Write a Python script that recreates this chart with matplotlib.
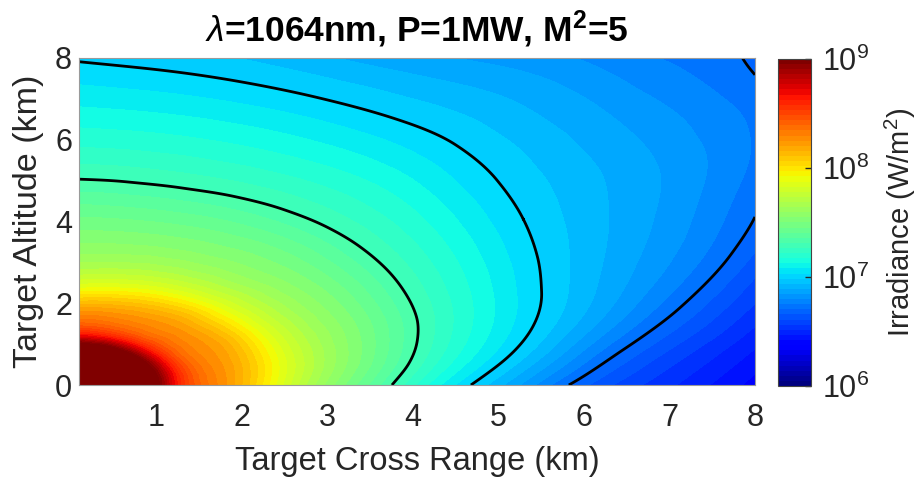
import numpy as np
import matplotlib
matplotlib.use('Agg')
import matplotlib.pyplot as plt
import matplotlib.tri as mtri
from matplotlib.colors import Normalize, LogNorm
from matplotlib.cm import ScalarMappable
from matplotlib.ticker import NullLocator

# ---------------- data ----------------
# Positions (polar, about the origin) where log10(irradiance [W/m^2]) takes
# a given value: angle in degrees from the cross-range axis, distance in km.
peak_log_irr = 9.7
ring_angles_deg = [0, 7.5, 15, 22.5, 30, 37.5, 45, 52.5, 60, 67.5, 75, 82.5, 90]

ring_945_r = [0.50, 0.50, 0.50, 0.50, 0.50, 0.50, 0.50, 0.50, 0.50, 0.50, 0.50, 0.50, 0.50]
ring_900_r = [1.04, 1.04, 1.04, 1.04, 1.04, 1.04, 1.04, 1.04, 1.04, 1.04, 1.03, 1.03, 1.03]
ring_862_r = [1.27, 1.27, 1.27, 1.27, 1.27, 1.27, 1.27, 1.27, 1.27, 1.27, 1.27, 1.27, 1.27]
ring_825_r = [1.82, 1.83, 1.84, 1.85, 1.86, 1.86, 1.86, 1.86, 1.85, 1.84, 1.83, 1.82, 1.80]
ring_787_r = [2.44, 2.50, 2.55, 2.58, 2.60, 2.60, 2.60, 2.60, 2.58, 2.55, 2.50, 2.45, 2.40]
ring_750_r = [3.20, 3.38, 3.52, 3.63, 3.70, 3.76, 3.80, 3.83, 3.84, 3.83, 3.81, 3.79, 3.77]
ring_730_r = [3.76, 3.99, 4.20, 4.38, 4.52, 4.66, 4.79, 4.90, 4.97, 5.00, 5.00, 5.02, 5.05]
ring_715_r = [4.17, 4.51, 4.83, 5.09, 5.32, 5.56, 5.81, 6.03, 6.13, 6.17, 6.21, 6.25, 6.30]
ring_700_r = [4.68, 5.15, 5.60, 5.96, 6.30, 6.67, 7.06, 7.40, 7.54, 7.60, 7.68, 7.78, 7.93]
ring_levels = [9.45, 9.0, 8.625, 8.25, 7.875, 7.5, 7.3, 7.15, 7.0]

ring_685_angles_deg = [0, 7.5, 15, 22.5, 30, 37.5, 45, 52.5]
ring_685_r = [5.25, 5.80, 6.45, 7.10, 7.85, 8.67, 9.08, 9.32]
ring_685_level = 6.85

ring_670_angles_deg = [0, 7.5, 15, 22.5]
ring_670_r = [5.82, 6.50, 7.38, 8.35]
ring_670_level = 6.7

# values along the plot edges (km, log10 W/m^2)
bottom_edge_x = [7.0]
bottom_edge_val = [6.51]
right_edge_y = [0.0, 1.0, 2.0, 3.0, 4.14, 5.0, 6.0, 7.0, 7.56, 8.0]
right_edge_val = [6.38, 6.46, 6.55, 6.63, 6.70, 6.73, 6.745, 6.725, 6.70, 6.685]
top_edge_x = [0.0, 1.0, 2.0, 3.0, 4.0, 5.0, 6.0, 7.0, 7.84]
top_edge_val = [6.994, 6.975, 6.948, 6.905, 6.865, 6.835, 6.795, 6.745, 6.70]

contour_line_levels_wm2 = [5e6, 1e7, 2e7]

x_ticks = [1, 2, 3, 4, 5, 6, 7, 8]
y_ticks = [0, 2, 4, 6, 8]
cbar_ticks = [1e6, 1e7, 1e8, 1e9]
cbar_ticklabels = [r'$10^{6}$', r'$10^{7}$', r'$10^{8}$', r'$10^{9}$']

title_text = r'$\lambda$=1064nm, P=1MW, M$^{\mathbf{2}}$=5'
x_label = 'Target Cross Range (km)'
y_label = 'Target Altitude (km)'
cbar_label = r'Irradiance (W/m$^{2}$)'

# ---------------- style ----------------
plt.rcParams['font.family'] = ['Liberation Sans', 'DejaVu Sans']
plt.rcParams['mathtext.fontset'] = 'custom'
plt.rcParams['mathtext.rm'] = 'Liberation Sans'
plt.rcParams['mathtext.it'] = 'Liberation Sans:italic'
plt.rcParams['mathtext.bf'] = 'Liberation Sans:bold'
text_color = '#262626'
edge_color = '#9a9a9a'

# ---------------- gather samples ----------------
px, py, pz = [0.0], [0.0], [peak_log_irr]


def add_ring(angles, radii, level):
    th = np.deg2rad(np.asarray(angles, dtype=float))
    rr = np.asarray(radii, dtype=float)
    px.extend(rr * np.cos(th))
    py.extend(rr * np.sin(th))
    pz.extend([level] * len(rr))


rings = [ring_945_r, ring_900_r, ring_862_r, ring_825_r, ring_787_r,
         ring_750_r, ring_730_r, ring_715_r, ring_700_r]
for radii, level in zip(rings, ring_levels):
    add_ring(ring_angles_deg, radii, level)
add_ring(ring_685_angles_deg, ring_685_r, ring_685_level)
add_ring(ring_670_angles_deg, ring_670_r, ring_670_level)

px.extend(bottom_edge_x); py.extend([0.0] * len(bottom_edge_x)); pz.extend(bottom_edge_val)
px.extend([8.0] * len(right_edge_y)); py.extend(right_edge_y); pz.extend(right_edge_val)
px.extend(top_edge_x); py.extend([8.0] * len(top_edge_x)); pz.extend(top_edge_val)

px = np.round(np.array(px), 9)
py = np.round(np.array(py), 9)
pz = np.array(pz, dtype=float)

tri = mtri.Triangulation(px, py)
interp = mtri.CubicTriInterpolator(tri, pz, kind='min_E')
refiner = mtri.UniformTriRefiner(tri)
tri_f, z_f = refiner.refine_field(pz, triinterpolator=interp, subdiv=4)

# ---------------- figure ----------------
fig = plt.figure(figsize=(9.19, 4.82), dpi=100)
ax = fig.add_axes([0.086, 0.2012, 0.7355, 0.6785])
cax = fig.add_axes([0.8466, 0.199, 0.0359, 0.679])

cmap = plt.get_cmap('jet')
norm = Normalize(vmin=6, vmax=9)
fill_levels = np.arange(5.9, 9.9, 0.05)
ax.tricontourf(tri_f, z_f, levels=fill_levels, cmap=cmap, norm=norm)
ax.tricontour(tri_f, z_f, levels=np.log10(contour_line_levels_wm2),
              colors='black', linewidths=2.0)

ax.set_xlim(0.1, 8)
ax.set_ylim(0, 8)
ax.set_xticks(x_ticks)
ax.set_yticks(y_ticks)
ax.tick_params(length=0, labelsize=22, colors=text_color)
ax.tick_params(axis='x', pad=13)
ax.tick_params(axis='y', pad=5)
for s in ax.spines.values():
    s.set_color(edge_color)
    s.set_linewidth(0.8)
ax.set_xlabel(x_label, fontsize=23.5, color=text_color, labelpad=9)
ax.set_ylabel(y_label, fontsize=24.5, color=text_color, labelpad=8)
ax.set_title(title_text, fontsize=25.5, fontweight='bold', color='black', pad=12)

sm = ScalarMappable(norm=LogNorm(vmin=1e6, vmax=1e9), cmap=plt.get_cmap('jet', 64))
cb = fig.colorbar(sm, cax=cax)
cb.set_ticks(cbar_ticks)
cb.set_ticklabels(cbar_ticklabels)
cax.yaxis.set_minor_locator(NullLocator())
cax.tick_params(direction='in', length=4, width=1, labelsize=22, colors=text_color, pad=8)
cb.outline.set_edgecolor('#444444')
cb.outline.set_linewidth(0.8)
cb.set_label(cbar_label, fontsize=21, color=text_color, labelpad=10)

fig.savefig('out.png', dpi=100)
